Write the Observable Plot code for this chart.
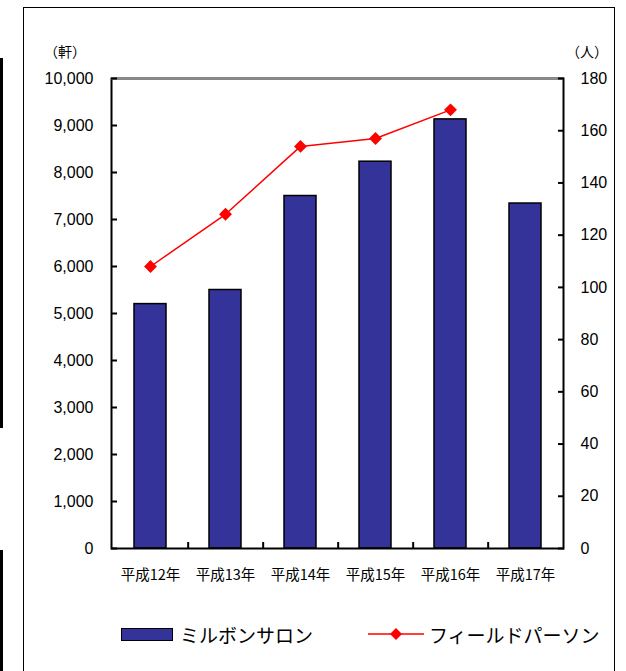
<!DOCTYPE html>
<html><head><meta charset="utf-8">
<script src="https://cdn.jsdelivr.net/npm/d3@7"></script>
<script src="https://cdn.jsdelivr.net/npm/@observablehq/plot@0.6"></script>
<style>
body{margin:0;background:#fff;}
#wrap{position:relative;width:626px;height:671px;overflow:hidden;background:#fff;font-family:"Liberation Sans","Noto Sans CJK JP",sans-serif;color:#000;}
.outer{position:absolute;left:23px;top:7px;width:592px;height:720px;border:1.5px solid #000;box-sizing:border-box;}
.stray{position:absolute;left:0;width:3px;background:#000;}
.unit{position:absolute;top:41px;font-size:14px;font-family:"Noto Sans CJK JP",sans-serif;}
#chart{position:absolute;left:0;top:0;}
#legend{position:absolute;top:619px;left:0;width:626px;height:30px;font-family:"Noto Sans CJK JP",sans-serif;font-size:19px;}
.li{position:absolute;top:0;display:flex;align-items:center;height:30px;}
.sw{width:52px;height:13px;background:#333399;border:1.5px solid #000;box-sizing:border-box;margin-right:7px;}
</style></head><body>
<div id="wrap">
  <div class="stray" style="top:58px;height:370px"></div>
  <div class="stray" style="top:550px;height:130px"></div>
  <div class="outer"></div>
  <div class="unit" style="left:44px">（軒）</div>
  <div class="unit" style="left:566px">（人）</div>
  <div id="chart"></div>
  <div id="legend">
    <div class="li" style="left:121px"><div class="sw"></div><span id="l1"></span></div>
    <div class="li" style="left:368px"><svg width="56" height="14" style="margin-right:5px"><line x1="0" y1="7" x2="56" y2="7" stroke="#ff0000" stroke-width="1.5"/><path d="M28,1L34,7L28,13L22,7Z" fill="#ff0000"/></svg><span id="l2"></span></div>
  </div>
</div>
<script>
const years = ["平成12年", "平成13年", "平成14年", "平成15年", "平成16年", "平成17年"];
const salonCounts = [5200, 5500, 7500, 8230, 9130, 7340];
const personYears = ["平成12年", "平成13年", "平成14年", "平成15年", "平成16年"];
const personCounts = [108, 128, 154, 157, 168];
const leftTicks = [0, 1000, 2000, 3000, 4000, 5000, 6000, 7000, 8000, 9000, 10000];
const rightTicks = [0, 20, 40, 60, 80, 100, 120, 140, 160, 180];
const seriesNames = ["ミルボンサロン", "フィールドパーソン"];
const leftMax = 10000, rightMax = 180;

document.getElementById("l1").textContent = seriesNames[0];
document.getElementById("l2").textContent = seriesNames[1];

const W = 626, H = 600, mL = 111, mR = 63, mT = 78, mB = 52;
const step = (W - mL - mR) / years.length;
const toLeft = v => v * leftMax / rightMax;

const bars = years.map((y, i) => ({year: y, v: salonCounts[i]}));
const pts = personYears.map((y, i) => ({year: y, v: toLeft(personCounts[i])}));

const plot = Plot.plot({
  width: W, height: H,
  marginLeft: mL, marginRight: mR, marginTop: mT, marginBottom: mB,
  style: {fontFamily: '"Liberation Sans","Noto Sans CJK JP",sans-serif', fontSize: "16px", color: "#000", background: "transparent", overflow: "visible"},
  x: {domain: years, paddingInner: 0.575, paddingOuter: 0.2875, label: null},
  y: {domain: [0, leftMax], label: null},
  marks: [
    Plot.barY(bars, {x: "year", y: "v", fill: "#333399", stroke: "#000", strokeWidth: 1.5}),
    Plot.frame({stroke: "#000", strokeWidth: 2}),
    Plot.ruleY([leftMax], {stroke: "#8c8c8c", strokeWidth: 2}),
    Plot.tickX(years.slice(0, years.length - 1), {x: d => d, dx: step / 2, insetTop: H - mT - mB - 6, stroke: "#000", strokeWidth: 2}),
    Plot.axisY(leftTicks, {anchor: "left", tickFormat: d3.format(","), tickSize: -6, tickPadding: 24, strokeWidth: 2, fontSize: 16, label: null}),
    Plot.axisY(rightTicks.map(toLeft), {anchor: "right", tickFormat: d => Math.round(d * rightMax / leftMax), tickSize: -6, tickPadding: 23, strokeWidth: 2, fontSize: 16, label: null}),
    Plot.axisX(years, {anchor: "bottom", tickSize: 0, tickPadding: 21, fontFamily: '"Noto Sans CJK JP",sans-serif', fontSize: 14.5, label: null}),
    Plot.line(pts, {x: "year", y: "v", stroke: "#ff0000", strokeWidth: 1.5}),
    Plot.dot(pts, {x: "year", y: "v", symbol: "diamond2", r: 5.8, fill: "#ff0000", stroke: "none"})
  ]
});
document.getElementById("chart").appendChild(plot);
</script>
</body></html>
